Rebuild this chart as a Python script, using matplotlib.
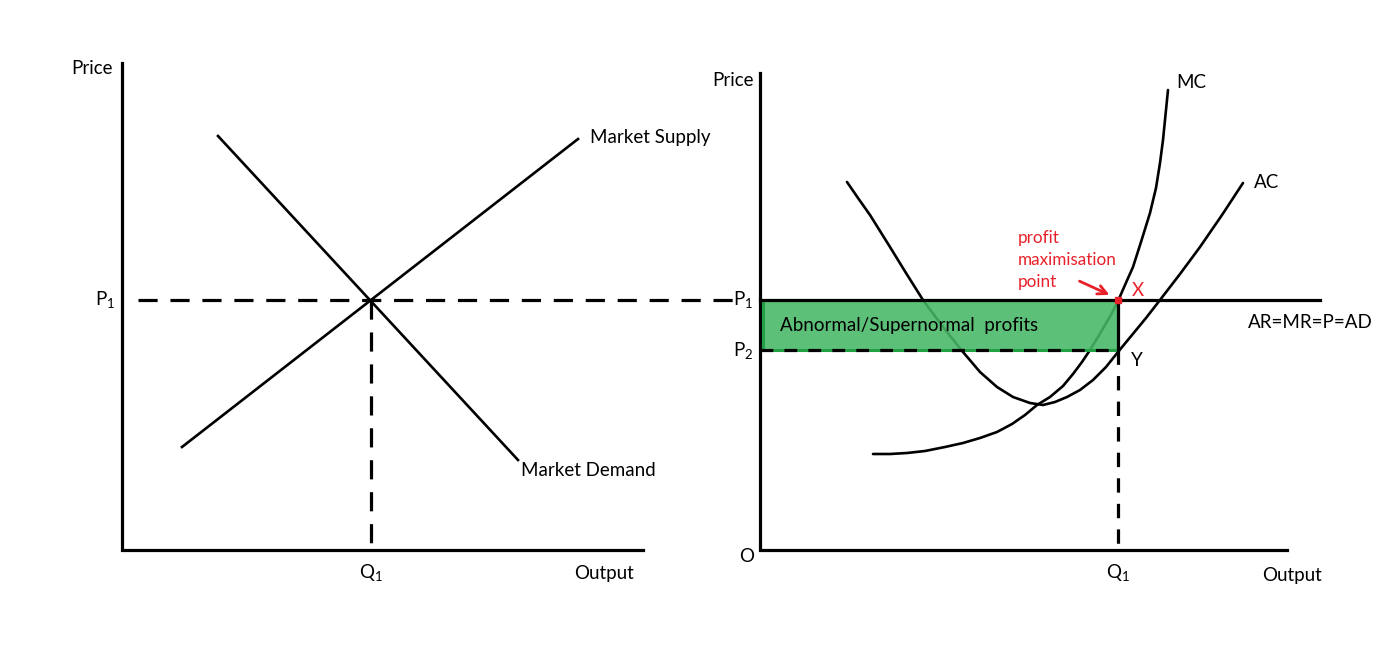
import matplotlib.pyplot as plt
from matplotlib.patches import Rectangle

plt.rcParams['font.family'] = ['Lato', 'DejaVu Sans']

supply_x = [182, 578]
supply_y = [447, 139]
demand_x = [218, 518]
demand_y = [136, 460]

mc_x = [873, 890, 907, 925, 945, 963, 980, 997, 1012, 1025, 1037, 1050, 1063, 1073, 1082,
        1090, 1098, 1105, 1112, 1118, 1125, 1133, 1141, 1150, 1156, 1160, 1163, 1165, 1167, 1168]
mc_y = [454, 454, 453, 451, 447, 443, 438, 432, 424, 415, 405, 397, 386, 374, 362,
        350, 337, 325, 313, 301, 285, 267, 242, 213, 188, 163, 140, 120, 100, 90]

ac_x = [847, 858, 870, 880, 890, 906, 923, 943, 963, 980, 997, 1013, 1030, 1043, 1055,
        1067, 1080, 1093, 1106, 1118, 1132, 1146, 1160, 1180, 1200, 1222, 1243]
ac_y = [182, 198, 215, 231, 247, 273, 300, 327, 352, 372, 387, 397, 403, 405, 402,
        397, 390, 380, 367, 352, 335, 318, 300, 274, 247, 215, 183]

p1, p2 = 300, 350
q1_left, q1_right = 371, 1118

fig = plt.figure(figsize=(13.93, 6.5), dpi=100)
ax = fig.add_axes([0, 0, 1, 1])
ax.set_xlim(0, 1393)
ax.set_ylim(650, 0)
ax.axis("off")

lw_axis = 2.3
lw_curve = 1.9
txt = dict(fontsize=13.5, color='black')

# ---- left panel: market ----
ax.plot([122, 122, 643], [63, 550, 550], color='black', lw=lw_axis, solid_joinstyle='miter')
ax.plot(supply_x, supply_y, color='black', lw=lw_curve)
ax.plot(demand_x, demand_y, color='black', lw=lw_curve)
ax.plot([138, 742], [p1, p1], color='black', lw=lw_axis, dashes=(6, 4))
ax.plot([q1_left, q1_left], [p1, 550], color='black', lw=lw_axis, dashes=(6, 4))

ax.text(71, 68, "Price", va='center', ha='left', **txt)
ax.text(95, 300, r"P$_{\mathregular{1}}$", va='center', ha='left', **txt)
ax.text(q1_left, 573, r"Q$_{\mathregular{1}}$", va='center', ha='center', **txt)
ax.text(574, 573, "Output", va='center', ha='left', **txt)
ax.text(590, 138, "Market Supply", va='center', ha='left', **txt)
ax.text(521, 471, "Market Demand", va='center', ha='left', **txt)

# ---- right panel: firm ----
ax.plot(mc_x, mc_y, color='black', lw=lw_curve, solid_joinstyle='round', solid_capstyle='round', zorder=2)
ax.plot(ac_x, ac_y, color='black', lw=lw_curve, solid_joinstyle='round', solid_capstyle='round', zorder=2)
ax.add_patch(Rectangle((763, p1), q1_right - 763, p2 - p1, facecolor='#46b866', alpha=0.88,
                       edgecolor='none', zorder=2.5))
ax.add_patch(Rectangle((763, p1), q1_right - 763, p2 - p1, facecolor='none',
                       edgecolor='#22a046', lw=2.2, zorder=2.6))
ax.plot([760, 760, 1287], [73, 550, 550], color='black', lw=lw_axis, solid_joinstyle='miter')
ax.plot([760, 1320], [p1, p1], color='black', lw=lw_axis, zorder=3)
ax.plot([760, q1_right], [p2, p2], color='black', lw=lw_axis, dashes=(4, 3.5), zorder=3)
ax.plot([q1_right, q1_right], [p1, p2], color='black', lw=lw_axis, zorder=3)
ax.plot([q1_right, q1_right], [p2, 550], color='black', lw=lw_axis, dashes=(4.5, 3.5))
ax.plot([q1_right], [p1], marker='s', ms=5, color='#e8202a', zorder=5)

ax.text(712, 80, "Price", va='center', ha='left', **txt)
ax.text(739, 557, "O", va='center', ha='left', **txt)
ax.text(733, 300, r"P$_{\mathregular{1}}$", va='center', ha='left', **txt)
ax.text(733, 351, r"P$_{\mathregular{2}}$", va='center', ha='left', **txt)
ax.text(q1_right, 573, r"Q$_{\mathregular{1}}$", va='center', ha='center', **txt)
ax.text(1262, 575, "Output", va='center', ha='left', **txt)
ax.text(1176, 82, "MC", va='center', ha='left', **txt)
ax.text(1254, 182, "AC", va='center', ha='left', **txt)
ax.text(1248, 323, "AR=MR=P=AD", va='center', ha='left', **txt)
ax.text(1131, 361, "Y", va='center', ha='left', **txt)
ax.text(780, 325, "Abnormal/Supernormal  profits", va='center', ha='left', zorder=4, **txt)

red = '#e8202a'
ax.text(1132, 290, "X", va='center', ha='left', fontsize=13.5, color=red)
ax.text(1018, 238, "profit", va='center', ha='left', fontsize=12.3, color=red)
ax.text(1018, 260, "maximisation", va='center', ha='left', fontsize=12.3, color=red)
ax.text(1018, 282, "point", va='center', ha='left', fontsize=12.3, color=red)
ax.annotate("", xy=(1112, 296), xytext=(1077, 280),
            arrowprops=dict(arrowstyle='->', color=red, lw=2, mutation_scale=16))

fig.savefig("out.png", dpi=100)
